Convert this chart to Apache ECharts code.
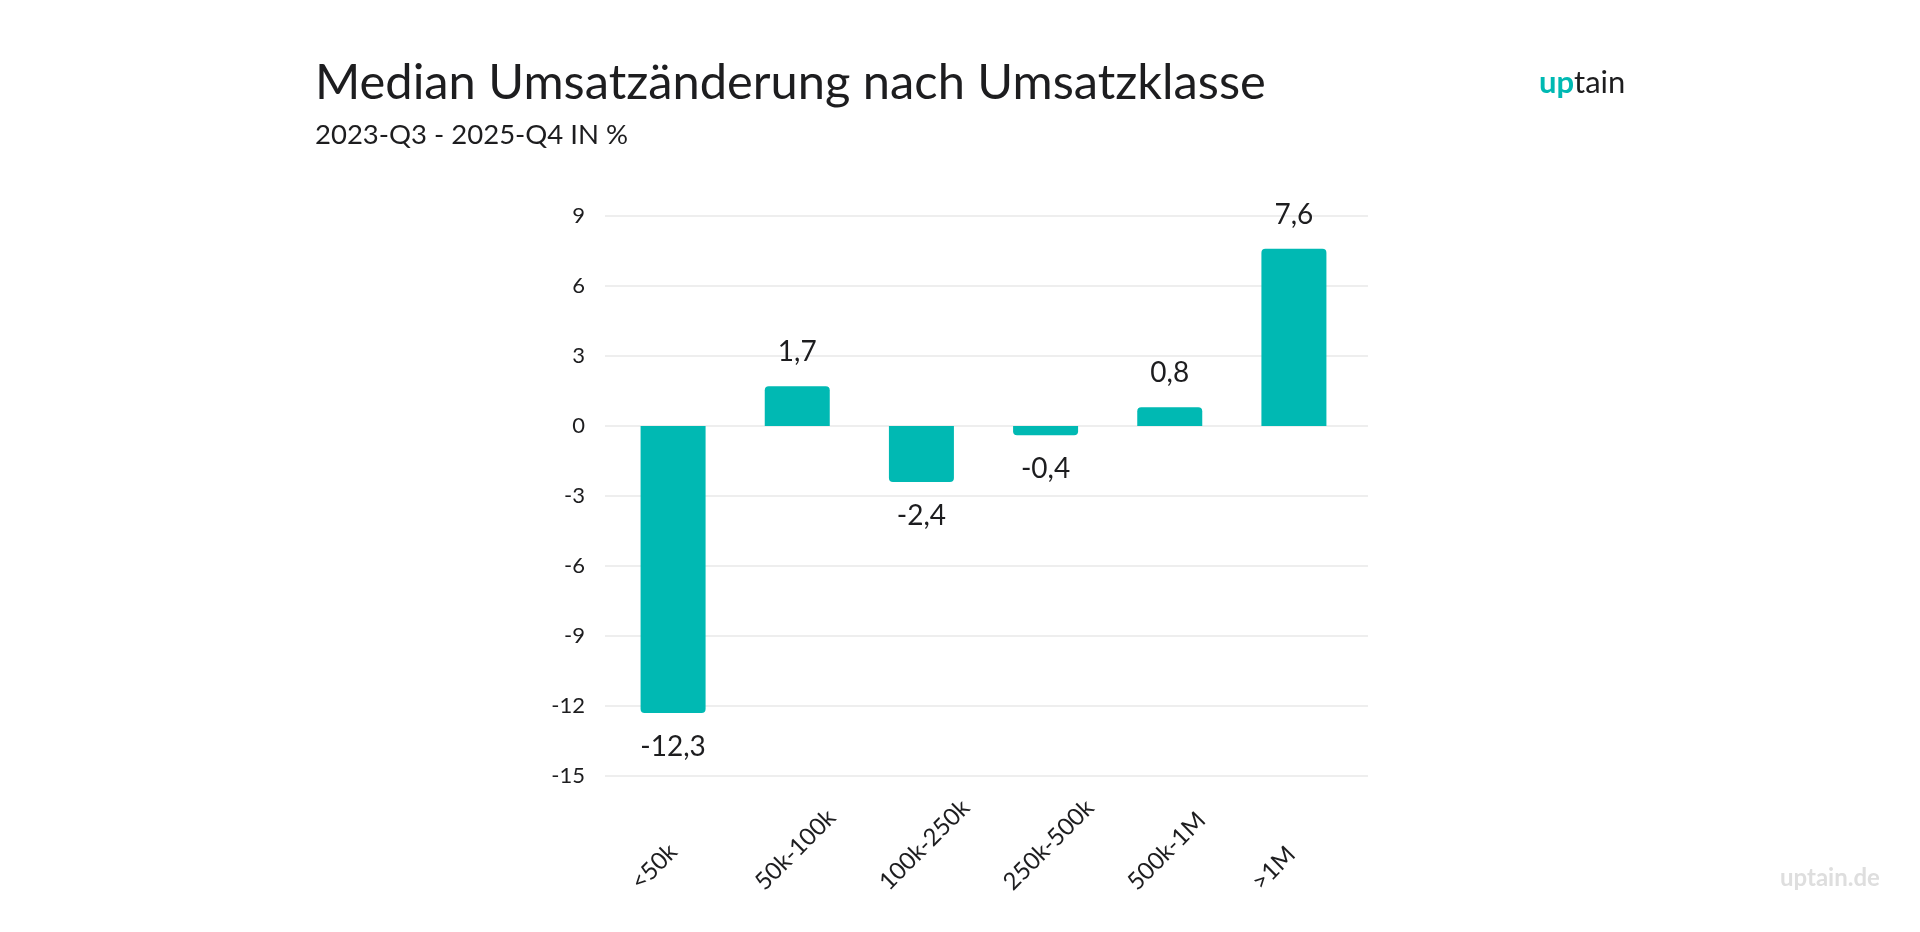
<!DOCTYPE html>
<html>
<head>
<meta charset="utf-8">
<script src="https://cdn.jsdelivr.net/npm/echarts@6/dist/echarts.min.js"></script>
<style>
html, body { margin: 0; padding: 0; background: #fff; }
#chart { width: 1920px; height: 932px; }
</style>
</head>
<body>
<div id="chart"></div>
<script>
// data
const categories = ['<50k', '50k-100k', '100k-250k', '250k-500k', '500k-1M', '>1M'];
const values = [-12.3, 1.7, -2.4, -0.4, 0.8, 7.6];
const yTicks = [-15, -12, -9, -6, -3, 0, 3, 6, 9];

const teal = '#00b9b3';
const dark = '#1d1d1f';
const font = 'Lato';

let chart = echarts.init(document.getElementById('chart'));

// runde Ecken nur auf der Seite weg von der Null-Linie
let barData = values.map(function (v) {
	return {
		value: v,
		itemStyle: { borderRadius: v >= 0 ? [4, 4, 0, 0] : [0, 0, 4, 4] },
		label: { position: v >= 0 ? 'top' : 'bottom' }
	};
});

chart.setOption({
	backgroundColor: '#fff',
	textStyle: { fontFamily: font },
	graphic: [
		{
			type: 'text', left: 315, top: 59,
			style: { text: 'Median Umsatzänderung nach Umsatzklasse', font: '48.8px ' + font, fill: dark }
		},
		{
			type: 'text', left: 315, top: 121,
			style: { text: '2023-Q3 - 2025-Q4 IN %', font: '27.5px ' + font, fill: dark }
		},
		{
			type: 'text', left: 1539, top: 67,
			style: {
				text: '{a|up}{b|tain}',
				rich: {
					a: { fontSize: 31, fontWeight: 'bold', fontFamily: font, fill: teal },
					b: { fontSize: 31, fontFamily: font, fill: dark }
				}
			}
		},
		{
			type: 'text', left: 1780, top: 866,
			style: { text: 'uptain.de', font: 'bold 24px ' + font, fill: '#dedede' }
		}
	],
	grid: [
		// Gitterlinien + y-Achse
		{ left: 605, right: 552, top: 216, bottom: 156 },
		// Balken
		{ left: 611, right: 564, top: 216, bottom: 156 },
		// Kategorie-Beschriftung, etwas nach links versetzt
		{ left: 573, right: 602, top: 216, bottom: 156 }
	],
	xAxis: [
		{ gridIndex: 0, type: 'value', show: false },
		{
			gridIndex: 1,
			type: 'category',
			data: categories,
			axisLine: { show: false },
			axisTick: { show: false },
			axisLabel: { show: false }
		},
		{
			gridIndex: 2,
			type: 'category',
			data: categories,
			axisLine: { show: false },
			axisTick: { show: false },
			axisLabel: {
				rotate: 45,
				align: 'left',
				margin: 110,
				interval: 0,
				fontSize: 24,
				color: dark,
				fontFamily: font
			}
		}
	],
	yAxis: [
		{
			gridIndex: 0,
			type: 'value',
			min: yTicks[0],
			max: yTicks[yTicks.length - 1],
			interval: 3,
			axisLine: { show: false },
			axisTick: { show: false },
			axisLabel: { fontSize: 22, color: dark, margin: 20, fontFamily: font },
			splitLine: { lineStyle: { color: '#e8e8e8', width: 1.5 } }
		},
		{
			gridIndex: 1,
			type: 'value',
			min: yTicks[0],
			max: yTicks[yTicks.length - 1],
			interval: 3,
			show: false,
			splitLine: { show: false }
		},
		{
			gridIndex: 2,
			type: 'value',
			min: yTicks[0],
			max: yTicks[yTicks.length - 1],
			interval: 3,
			show: false,
			splitLine: { show: false }
		}
	],
	series: [{
		type: 'bar',
		xAxisIndex: 1,
		yAxisIndex: 1,
		data: barData,
		barWidth: 65,
		itemStyle: { color: teal },
		label: {
			show: true,
			distance: 20,
			fontSize: 28,
			color: dark,
			fontFamily: font,
			formatter: function (p) {
				return p.value.toFixed(1).replace('.', ',');
			}
		}
	}]
});
</script>
</body>
</html>
